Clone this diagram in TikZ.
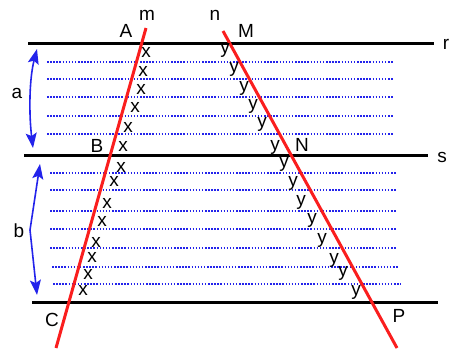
\documentclass[tikz,border=0pt]{standalone}
\usepackage{fontspec}
\setmainfont{Liberation Sans}
\usetikzlibrary{arrows.meta}
\definecolor{myred}{RGB}{250,30,30}
\definecolor{myblue}{RGB}{35,35,235}
\begin{document}
\begin{tikzpicture}[x=1pt,y=-1pt,
  lab/.style={inner sep=0pt,font=\fontsize{19}{22}\selectfont},
  par/.style={line width=3pt,black},
  transv/.style={line width=3pt,myred},
  dotl/.style={line width=1.6pt,myblue,dash pattern=on 1.5pt off 1.6pt},
  dim/.style={line width=1.6pt,myblue,{Stealth[length=15pt,width=11pt,inset=3pt]}-{Stealth[length=15pt,width=11pt,inset=3pt]}}]
\useasboundingbox (0,0) rectangle (449,351);
% parallel lines
\coordinate (r1) at (28,43); \coordinate (r2) at (434,43);
\coordinate (s1) at (24,155); \coordinate (s2) at (428,155);
\coordinate (t1) at (32,302); \coordinate (t2) at (438,302);
\draw[par] (r1) -- (r2);
\draw[par] (s1) -- (s2);
\draw[par] (t1) -- (t2);
% dotted lines
\foreach \y in {62,79,97,116,134} {\draw[dotl] (47,\y) -- (393,\y);}
\foreach \y in {173,190,211,229,248} {\draw[dotl] (50,\y) -- (397,\y);}
\draw[dotl] (52,267) -- (399,267);
\draw[dotl] (53,284) -- (401,284);
% transversals
\coordinate (mT) at (146,28); \coordinate (mB) at (56,348);
\coordinate (nT) at (223,31); \coordinate (nB) at (397,348);
\draw[transv] (mT) -- (mB);
\draw[transv] (nT) -- (nB);
% dimension arrows
\coordinate (a1) at (37,49); \coordinate (a2) at (33,148);
\draw[dim] (a1) .. controls (29,80) and (29,115) .. (a2);
\coordinate (b1) at (40,164); \coordinate (b2) at (37,295);
\draw[dim] (b1) -- (30,230) -- (b2);
% labels
\node[lab] (A) at (126,31) {A};
\node[lab] (m) at (147,15) {m};
\node[lab] (n) at (215,15) {n};
\node[lab] (M) at (246,31) {M};
\node[lab] (r) at (446,44) {r};
\node[lab] (B) at (97,146) {B};
\node[lab] (N) at (302,145) {N};
\node[lab] (s) at (442,157) {s};
\node[lab] (t) at (453,300) {t};
\node[lab] (C) at (52,320) {C};
\node[lab] (P) at (399,316) {P};
\node[lab] (a) at (17,93) {a};
\node[lab] (b) at (19,231) {b};
% x marks
\foreach \p [count=\i] in {(146,52),(143,71),(141,89),(135,107),(128,127),(123,146),(121,167),(114,181),(107,203),(102,221),(96,242),(92,257),(88,274),(83,290)}
  {\node[lab] (x\i) at \p {x};}
% y marks
\foreach \p [count=\i] in {(225,50),(234,69),(244,88),(253,106),(262,124),(275,147),(284,164),(293,183),(301,202),(312,220),(322,240),(334,260),(343,273),(356,292)}
  {\node[lab] (y\i) at \p {y};}
\end{tikzpicture}
\end{document}
